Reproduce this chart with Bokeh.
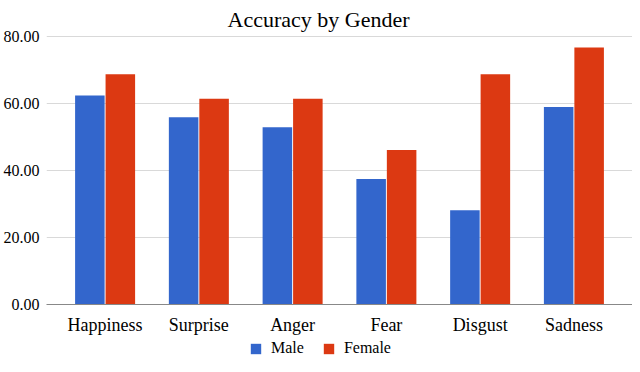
from bokeh.plotting import figure
from bokeh.layouts import column
from bokeh.models import (FactorRange, Range1d, FixedTicker, NumeralTickFormatter,
                          Legend, LegendItem, ColumnDataSource)
from bokeh.transform import dodge
from bokeh.embed import file_html
from bokeh.resources import INLINE

categories = ["Happiness", "Surprise", "Anger", "Fear", "Disgust", "Sadness"]
male = [62.5, 56.0, 53.0, 37.5, 28.2, 59.0]
female = [68.8, 61.5, 61.5, 46.2, 68.8, 76.8]
y_ticks = [0, 20, 40, 60, 80]
title_text = "Accuracy by Gender"
series_names = ["Male", "Female"]
colors = ["#3366cc", "#dc3912"]

FONT = "Liberation Serif"

src = ColumnDataSource(dict(cat=categories, male=male, female=female))

p = figure(
    x_range=FactorRange(factors=categories, range_padding=0.125, range_padding_units="absolute"),
    y_range=Range1d(0, 81),
    frame_width=586, frame_height=271,
    output_backend="svg", toolbar_location=None,
    min_border_left=38, min_border_right=0, min_border_top=33, min_border_bottom=32,
    title=title_text,
)
p.outline_line_color = None
p.background_fill_color = "white"
p.border_fill_color = "white"

p.title.align = "left"
p.title.offset = 181
p.title.text_font = FONT
p.title.text_font_size = "22px"
p.title.text_font_style = "normal"
p.title.text_color = "#000000"
p.title.standoff = 4

p.vbar(x=dodge("cat", -0.1625, range=p.x_range), top="male", width=0.315, source=src,
       fill_color=colors[0], line_color=None)
p.vbar(x=dodge("cat", 0.1625, range=p.x_range), top="female", width=0.315, source=src,
       fill_color=colors[1], line_color=None)

yax = p.yaxis[0]
yax.ticker = FixedTicker(ticks=y_ticks)
yax.formatter = NumeralTickFormatter(format="0.00")
yax.axis_line_color = None
yax.major_tick_line_color = None
yax.minor_tick_line_color = None
yax.major_tick_out = 0
yax.major_tick_in = 0
yax.major_label_standoff = 7
yax.major_label_text_font = FONT
yax.major_label_text_font_size = "16px"
yax.major_label_text_font_style = "normal"
yax.major_label_text_color = "#000000"

p.ygrid.ticker = FixedTicker(ticks=y_ticks)
p.ygrid.grid_line_color = "#d9d9d9"
p.ygrid.grid_line_width = 1
p.xgrid.grid_line_color = None

xax = p.xaxis[0]
xax.axis_line_color = "#888888"
xax.axis_line_width = 1
xax.major_tick_line_color = None
xax.minor_tick_line_color = None
xax.major_tick_out = 0
xax.major_tick_in = 0
xax.major_label_standoff = 10
xax.major_label_text_font = FONT
xax.major_label_text_font_size = "18px"
xax.major_label_text_color = "#000000"

# legend strip below the chart (proxy glyphs lie outside the strip's visible range)
lg = figure(width=624, height=20, x_range=Range1d(0, 1), y_range=Range1d(0, 1),
            x_axis_type=None, y_axis_type=None, output_backend="svg", toolbar_location=None,
            min_border=0)
lg.outline_line_color = None
lg.xgrid.grid_line_color = None
lg.ygrid.grid_line_color = None
lr_m = lg.vbar(x=[-5], top=[-5], bottom=[-6], width=0.1, fill_color=colors[0], line_color=None)
lr_f = lg.vbar(x=[-5], top=[-5], bottom=[-6], width=0.1, fill_color=colors[1], line_color=None)
legend = Legend(
    items=[LegendItem(label=series_names[0], renderers=[lr_m]),
           LegendItem(label=series_names[1], renderers=[lr_f])],
    orientation="horizontal",
    location=(203, 0),
    padding=0, margin=0, spacing=18,
    glyph_width=13, glyph_height=13, label_standoff=9, label_height=13,
    label_text_font=FONT, label_text_font_size="16px", label_text_color="#000000",
    border_line_color=None, background_fill_alpha=0,
)
lg.add_layout(legend, "center")

layout = column(p, lg, spacing=0)
open("out.html", "w").write(file_html(layout, INLINE))
